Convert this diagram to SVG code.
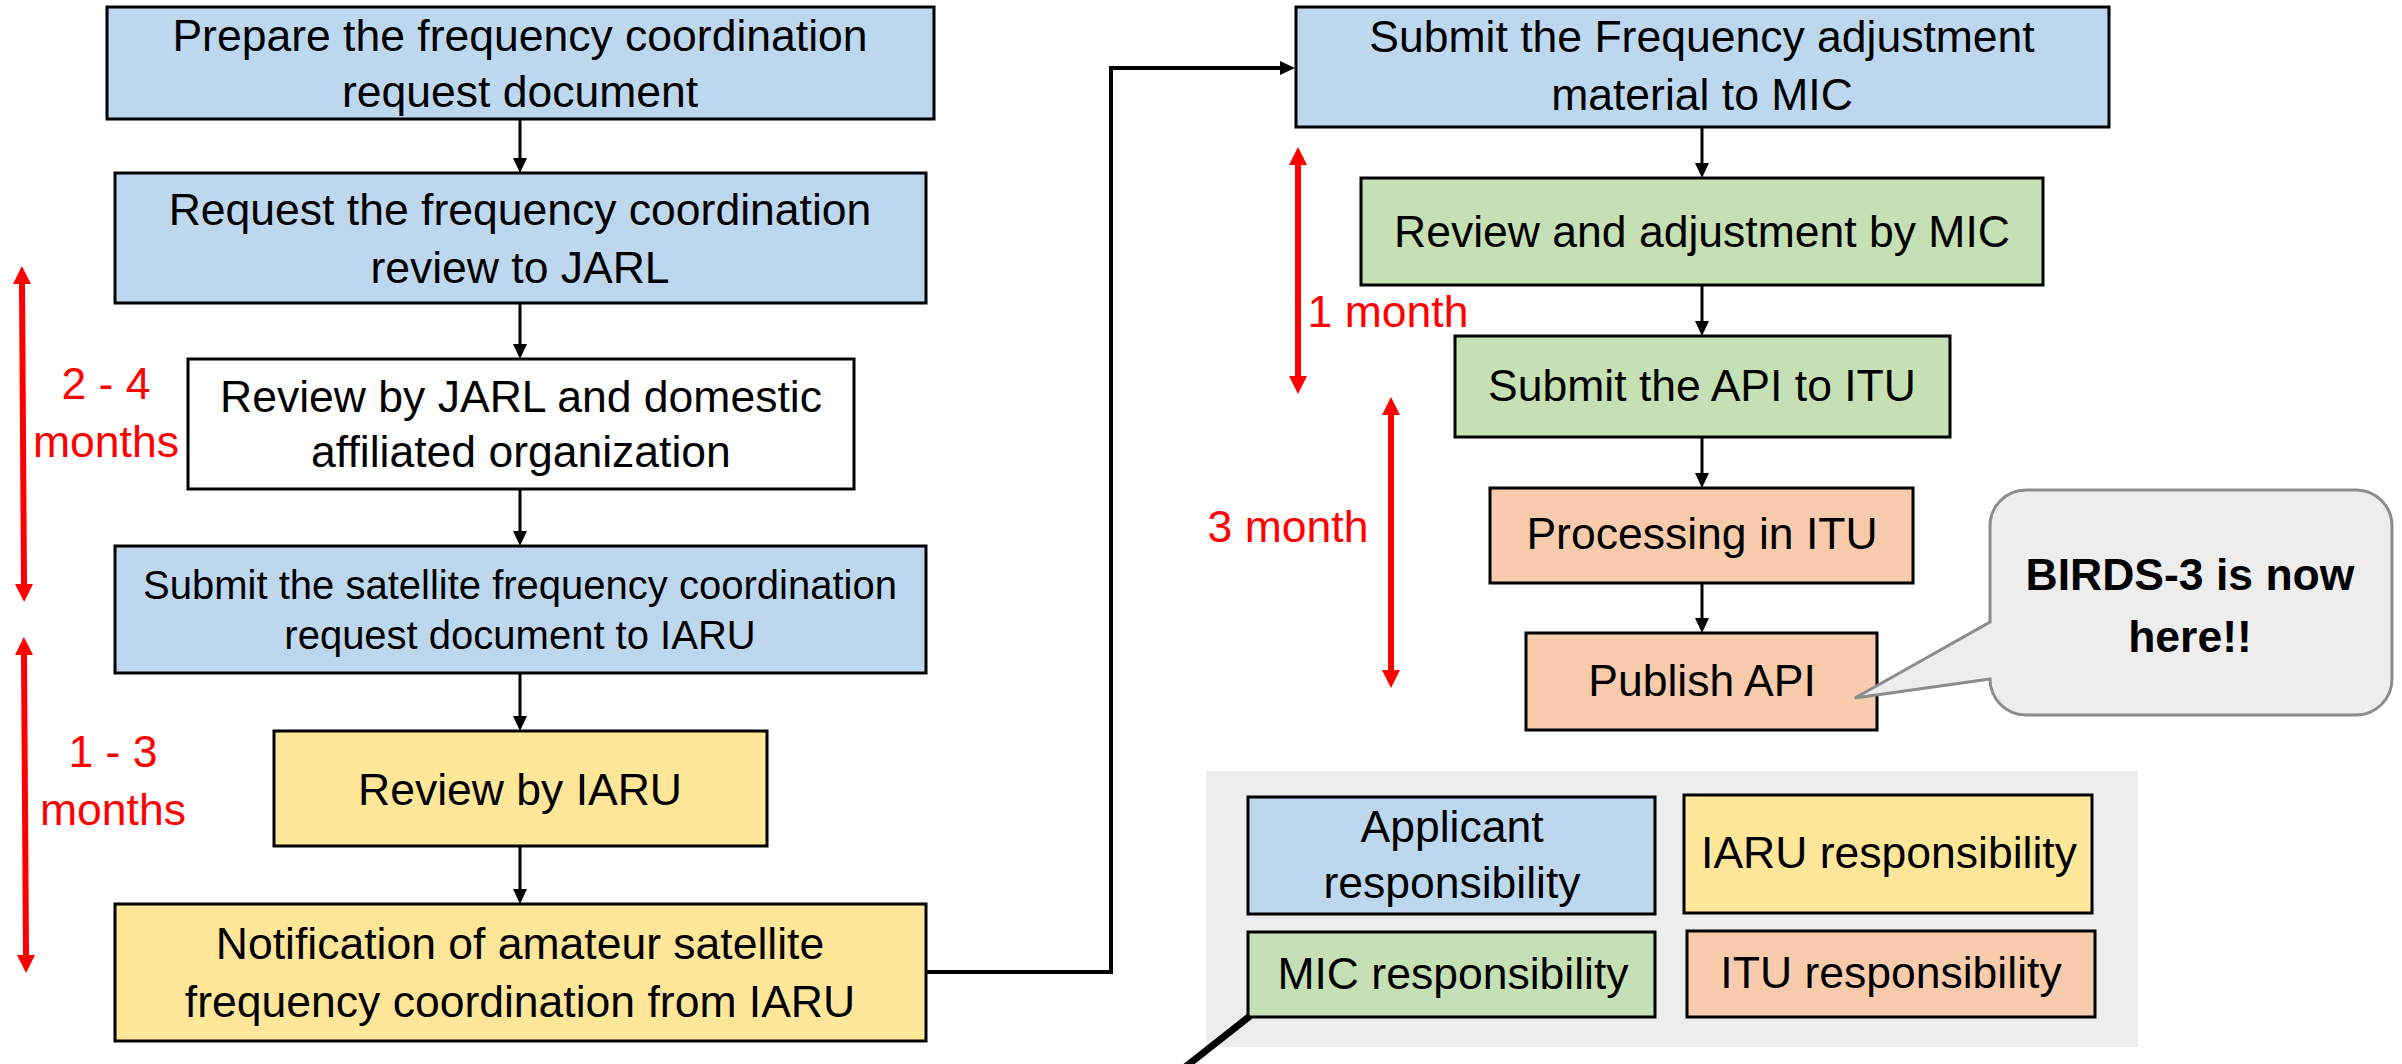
<svg xmlns="http://www.w3.org/2000/svg" width="2402" height="1064" viewBox="0 0 2402 1064">
<defs>
<style>
.box{stroke:#000;stroke-width:3}
.blue{fill:#BDD7EE}.yellow{fill:#FFE699}.green{fill:#C5E0B4}.orange{fill:#F8CBAD}.white{fill:#FFFFFF}
.t{font-family:"Liberation Sans",Arial,sans-serif;font-size:44.5px;fill:#000;text-anchor:middle}
.s{font-size:40px}
.red{font-family:"Liberation Sans",Arial,sans-serif;font-size:44.5px;fill:#FF0000;text-anchor:middle}
.conn{stroke:#000;stroke-width:3;fill:none}
.rarr{stroke:#FF0000;stroke-width:6;fill:none}
</style>
<marker id="ah" markerUnits="userSpaceOnUse" markerWidth="16" markerHeight="16" refX="0" refY="7" orient="auto"><path d="M0,0 L15,7 L0,14 z" fill="#000"/></marker>
<marker id="rh" markerUnits="userSpaceOnUse" markerWidth="20" markerHeight="20" refX="0" refY="9" orient="auto-start-reverse"><path d="M0,0 L18,9 L0,18 z" fill="#FF0000"/></marker>
</defs>
<rect width="2402" height="1064" fill="#FFFFFF"/>

<g id="legend">
<rect x="1206" y="771" width="932" height="276" fill="#EDEDED"/>
<g id="leg-applicant"><rect class="box blue" x="1248" y="797" width="407" height="117"/><text class="t" x="1452" y="842" font-size="44">Applicant</text><text class="t" x="1452" y="898">responsibility</text></g>
<g id="leg-iaru"><rect class="box yellow" x="1684" y="795" width="408" height="118"/><text class="t" x="1889" y="868">IARU responsibility</text></g>
<g id="leg-mic"><rect class="box green" x="1248" y="932" width="407" height="85"/><text class="t" x="1453" y="989">MIC responsibility</text></g>
<g id="leg-itu"><rect class="box orange" x="1687" y="931" width="408" height="86"/><text class="t" x="1891" y="988">ITU responsibility</text></g>
<line x1="1250" y1="1016" x2="1184" y2="1068" stroke="#000" stroke-width="7"/>
</g>

<g id="connectors">
<line class="conn" x1="520" y1="119" x2="520" y2="158" marker-end="url(#ah)"/>
<line class="conn" x1="520" y1="303" x2="520" y2="344" marker-end="url(#ah)"/>
<line class="conn" x1="520" y1="489" x2="520" y2="531" marker-end="url(#ah)"/>
<line class="conn" x1="520" y1="673" x2="520" y2="716" marker-end="url(#ah)"/>
<line class="conn" x1="520" y1="846" x2="520" y2="889" marker-end="url(#ah)"/>
<path d="M926,972 H1111 V68 H1280" stroke="#000" stroke-width="4" fill="none" marker-end="url(#ah)"/>
<line class="conn" x1="1702" y1="127" x2="1702" y2="163" marker-end="url(#ah)"/>
<line class="conn" x1="1702" y1="285" x2="1702" y2="321" marker-end="url(#ah)"/>
<line class="conn" x1="1702" y1="437" x2="1702" y2="473" marker-end="url(#ah)"/>
<line class="conn" x1="1702" y1="583" x2="1702" y2="618" marker-end="url(#ah)"/>
</g>

<g id="n1"><rect class="box blue" x="107" y="7" width="827" height="112"/><text class="t" x="520" y="51">Prepare the frequency coordination</text><text class="t" x="520" y="107">request document</text></g>
<g id="n2"><rect class="box blue" x="115" y="173" width="811" height="130"/><text class="t" x="520" y="225">Request the frequency coordination</text><text class="t" x="520" y="283">review to JARL</text></g>
<g id="n3"><rect class="box white" x="188" y="359" width="666" height="130"/><text class="t" x="521" y="412">Review by JARL and domestic</text><text class="t" x="521" y="467">affiliated organization</text></g>
<g id="n4"><rect class="box blue" x="115" y="546" width="811" height="127"/><text class="t s" x="520" y="599">Submit the satellite frequency coordination</text><text class="t s" x="520" y="649">request document to IARU</text></g>
<g id="n5"><rect class="box yellow" x="274" y="731" width="493" height="115"/><text class="t" x="520" y="805">Review by IARU</text></g>
<g id="n6"><rect class="box yellow" x="115" y="904" width="811" height="137"/><text class="t" x="520" y="959">Notification of amateur satellite</text><text class="t" x="520" y="1017">frequency coordination from IARU</text></g>

<g id="n7"><rect class="box blue" x="1296" y="7" width="813" height="120"/><text class="t" x="1702" y="52">Submit the Frequency adjustment</text><text class="t" x="1702" y="110">material to MIC</text></g>
<g id="n8"><rect class="box green" x="1361" y="178" width="682" height="107"/><text class="t" x="1702" y="247">Review and adjustment by MIC</text></g>
<g id="n9"><rect class="box green" x="1455" y="336" width="495" height="101"/><text class="t" x="1702" y="401">Submit the API to ITU</text></g>
<g id="n10"><rect class="box orange" x="1490" y="488" width="423" height="95"/><text class="t" x="1702" y="549">Processing in ITU</text></g>
<g id="n11"><rect class="box orange" x="1526" y="633" width="351" height="97"/><text class="t" x="1702" y="696">Publish API</text></g>

<g id="callout">
<path d="M2026,490 H2356 A36,36 0 0 1 2392,526 V679 A36,36 0 0 1 2356,715 H2026 A36,36 0 0 1 1990,679 L1855,698 L1990,622 V526 A36,36 0 0 1 2026,490 Z" fill="#EDEDED" stroke="#8C8C8C" stroke-width="3"/>
<text class="t" x="2190" y="590" font-weight="bold" font-size="45">BIRDS-3 is now</text>
<text class="t" x="2190" y="652" font-weight="bold" font-size="45">here!!</text>
</g>

<g id="durations">
<line class="rarr" x1="22" y1="284" x2="24" y2="584" marker-start="url(#rh)" marker-end="url(#rh)"/>
<text class="red" x="106" y="399">2 - 4</text>
<text class="red" x="106" y="457">months</text>
<line class="rarr" x1="24" y1="655" x2="26" y2="955" marker-start="url(#rh)" marker-end="url(#rh)"/>
<text class="red" x="113" y="767">1 - 3</text>
<text class="red" x="113" y="825">months</text>
<line class="rarr" x1="1298" y1="165" x2="1298" y2="376" marker-start="url(#rh)" marker-end="url(#rh)"/>
<text class="red" x="1388" y="327">1 month</text>
<line class="rarr" x1="1391" y1="415" x2="1391" y2="670" marker-start="url(#rh)" marker-end="url(#rh)"/>
<text class="red" x="1288" y="542">3 month</text>
</g>
</svg>
